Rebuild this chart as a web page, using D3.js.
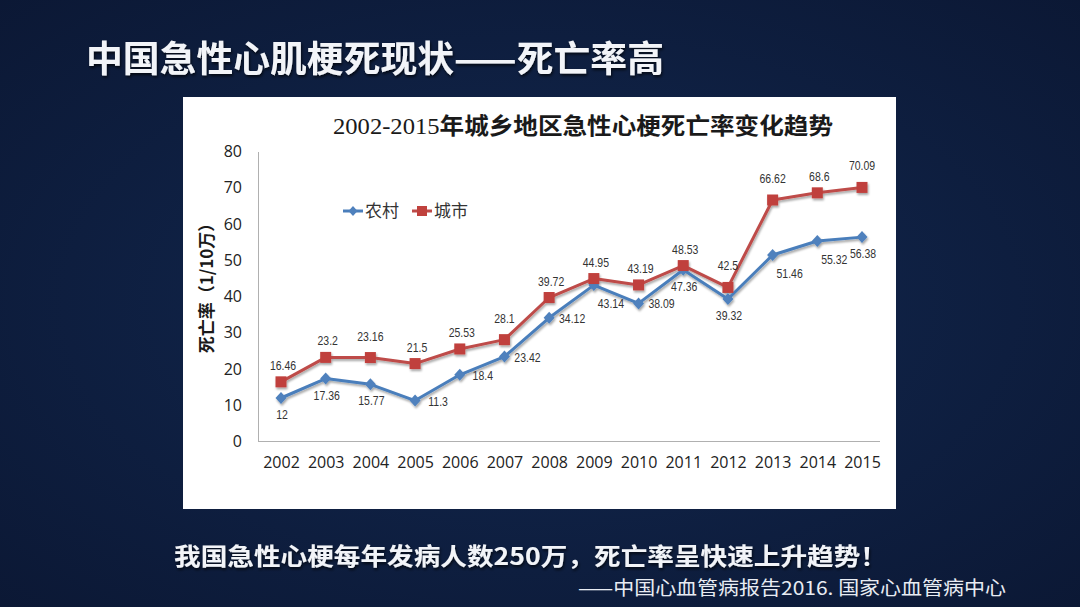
<!DOCTYPE html>
<html><head><meta charset="utf-8">
<script src="https://cdn.jsdelivr.net/npm/d3@7/dist/d3.min.js"></script>
<style>html,body{margin:0;padding:0;background:#0f1f40;}svg{display:block;}</style>
</head><body>
<svg id="chart" width="1080" height="607"></svg>
<script>
// ---- data ----
const years = ["2002","2003","2004","2005","2006","2007","2008","2009","2010","2011","2012","2013","2014","2015"];
const ruralValues = [12, 17.36, 15.77, 11.3, 18.4, 23.42, 34.12, 43.14, 38.09, 47.36, 39.32, 51.46, 55.32, 56.38];
const urbanValues = [16.46, 23.2, 23.16, 21.5, 25.53, 28.1, 39.72, 44.95, 43.19, 48.53, 42.5, 66.62, 68.6, 70.09];
const ruralLabels = ["12","17.36","15.77","11.3","18.4","23.42","34.12","43.14","38.09","47.36","39.32","51.46","55.32","56.38"];
const urbanLabels = ["16.46","23.2","23.16","21.5","25.53","28.1","39.72","44.95","43.19","48.53","42.5","66.62","68.6","70.09"];
const ruralPlacement = ["b","b","b","r","r","r","r","br","r","b","b","br","br","b"];
const urbanPlacement = ["t","t","T","t","t","T","t","t","t","t","T","T","t","T"];
const yTicks = [0,10,20,30,40,50,60,70,80];
const seriesNames = ["农村","城市"];

const svg = d3.select("#chart");
const W = 1080, H = 607;

// background
const defs = svg.append("defs");
const bg = defs.append("radialGradient").attr("id","bg").attr("cx","50%").attr("cy","50%").attr("r","75%");
bg.append("stop").attr("offset","0%").attr("stop-color","#122850");
bg.append("stop").attr("offset","100%").attr("stop-color","#0b1733");
svg.append("rect").attr("width",W).attr("height",H).attr("fill","url(#bg)");
const sh = defs.append("filter").attr("id","shadow").attr("x","-5%").attr("y","-20%").attr("width","110%").attr("height","140%");
sh.append("feDropShadow").attr("dx",1).attr("dy",2).attr("stdDeviation",1.5).attr("flood-color","#000").attr("flood-opacity",0.7);
const ls = defs.append("filter").attr("id","lshadow").attr("x","-5%").attr("y","-10%").attr("width","110%").attr("height","130%");
ls.append("feDropShadow").attr("dx",1).attr("dy",2).attr("stdDeviation",1.2).attr("flood-color","#000").attr("flood-opacity",0.35);

// main title
svg.append("text").attr("x",86).attr("y",72)
  .attr("font-family","'Noto Sans CJK SC'").attr("font-weight","bold").attr("font-size",36)
  .attr("fill","#f2f4f8").attr("filter","url(#shadow)")
  .attr("textLength",578).attr("lengthAdjust","spacingAndGlyphs")
  .text("中国急性心肌梗死现状——死亡率高");

// white panel
svg.append("rect").attr("x",183).attr("y",97).attr("width",713).attr("height",412).attr("fill","#ffffff");

// chart title
const t = svg.append("text").attr("x",333).attr("y",134).attr("font-size",23).attr("fill","#1a1a1a")
  .attr("textLength",500).attr("lengthAdjust","spacingAndGlyphs");
t.append("tspan").attr("font-family","'Liberation Serif','DejaVu Serif',serif").text("2002-2015");
t.append("tspan").attr("font-family","'Noto Sans CJK SC'").attr("font-weight","bold").text("年城乡地区急性心梗死亡率变化趋势");

// scales
const x = d3.scalePoint().domain(years).range([281, 862]);
const y = d3.scaleLinear().domain([0,80]).range([441.5, 151.5]);

// axes
const yAxis = d3.axisLeft(y).tickValues(yTicks).tickSize(0).tickPadding(0);
const gy = svg.append("g").attr("transform","translate(258,0)").call(yAxis);
gy.select(".domain").attr("stroke","#b0b0b0").attr("stroke-width",1);
gy.selectAll("text").attr("x",-16).attr("font-family","'Open Sans','Noto Sans',sans-serif").attr("font-size",16).attr("fill","#222");

const xAxis = d3.axisBottom(x).tickSize(0).tickPadding(0);
const gx = svg.append("g").attr("transform","translate(0,441.5)").call(xAxis);
gx.select(".domain").attr("d","M258,0H880").attr("stroke","#b0b0b0").attr("stroke-width",1);
gx.selectAll("text").attr("y",15).attr("font-family","'Open Sans','Noto Sans',sans-serif").attr("font-size",16).attr("fill","#222");

// y-axis title
svg.append("text").attr("transform","translate(213,284) rotate(-90)").attr("text-anchor","middle")
  .attr("font-family","'Noto Sans CJK SC'").attr("font-weight","bold").attr("font-size",17).attr("fill","#1a1a1a")
  .text("死亡率（1/10万）");

// lines
const blue = "#4a7ebb", red = "#be4b48";
const line = d3.line().x((d,i)=>x(years[i])).y(d=>y(d));
const plot = svg.append("g").attr("filter","url(#lshadow)");
plot.append("path").datum(ruralValues).attr("d",line).attr("fill","none").attr("stroke",blue).attr("stroke-width",3).attr("stroke-linejoin","round");
plot.append("path").datum(urbanValues).attr("d",line).attr("fill","none").attr("stroke",red).attr("stroke-width",3).attr("stroke-linejoin","round");
const diamondPath = "M0,-6L5.5,0L0,6L-5.5,0Z";
plot.selectAll(".rm").data(ruralValues).enter().append("path")
  .attr("d",diamondPath).attr("transform",(d,i)=>`translate(${x(years[i])},${y(d)})`).attr("fill","#4f81bd");
plot.selectAll(".um").data(urbanValues).enter().append("rect")
  .attr("x",(d,i)=>x(years[i])-5.5).attr("y",d=>y(d)-5.5).attr("width",11).attr("height",11).attr("fill","#c0413d");

// data labels
const off = {b:[1,21], r:[23,5], br:[17,23], t:[2,-12], T:[0,-17]};
function labels(vals, texts, place){
  svg.append("g").selectAll("text").data(vals).enter().append("text")
    .attr("transform",(d,i)=>`translate(${x(years[i])+off[place[i]][0]},${y(d)+off[place[i]][1]}) scale(0.84,1)`)
    .attr("text-anchor","middle")
    .attr("font-family","'Liberation Sans',Arial,sans-serif").attr("font-size",12.5).attr("fill","#333")
    .text((d,i)=>texts[i]);
}
labels(ruralValues, ruralLabels, ruralPlacement);
labels(urbanValues, urbanLabels, urbanPlacement);

// legend
const lg = svg.append("g").attr("transform","translate(343,211)");
lg.append("line").attr("x1",0).attr("x2",20).attr("stroke",blue).attr("stroke-width",3);
lg.append("path").attr("d","M0,-5L4.5,0L0,5L-4.5,0Z").attr("transform","translate(10,0)").attr("fill","#4f81bd");
lg.append("text").attr("x",22).attr("y",6).attr("font-family","'Noto Sans CJK SC'").attr("font-size",17).attr("fill","#333").text(seriesNames[0]);
lg.append("line").attr("x1",69).attr("x2",89).attr("stroke",red).attr("stroke-width",3);
lg.append("rect").attr("x",74).attr("y",-5).attr("width",10).attr("height",10).attr("fill","#c0413d");
lg.append("text").attr("x",91).attr("y",6).attr("font-family","'Noto Sans CJK SC'").attr("font-size",17).attr("fill","#333").text(seriesNames[1]);

// bottom texts
svg.append("text").attr("x",174).attr("y",565)
  .attr("font-family","'Noto Sans CJK SC'").attr("font-weight","bold").attr("font-size",24)
  .attr("fill","#f2f4f8").attr("filter","url(#shadow)")
  .attr("textLength",713).attr("lengthAdjust","spacingAndGlyphs")
  .text("我国急性心梗每年发病人数250万，死亡率呈快速上升趋势！");
svg.append("text").attr("x",578).attr("y",595)
  .attr("font-family","'Noto Sans CJK SC'").attr("font-size",19)
  .attr("fill","#e8ecf3")
  .attr("textLength",428).attr("lengthAdjust","spacingAndGlyphs")
  .text("——中国心血管病报告2016. 国家心血管病中心");
</script>
</body></html>
